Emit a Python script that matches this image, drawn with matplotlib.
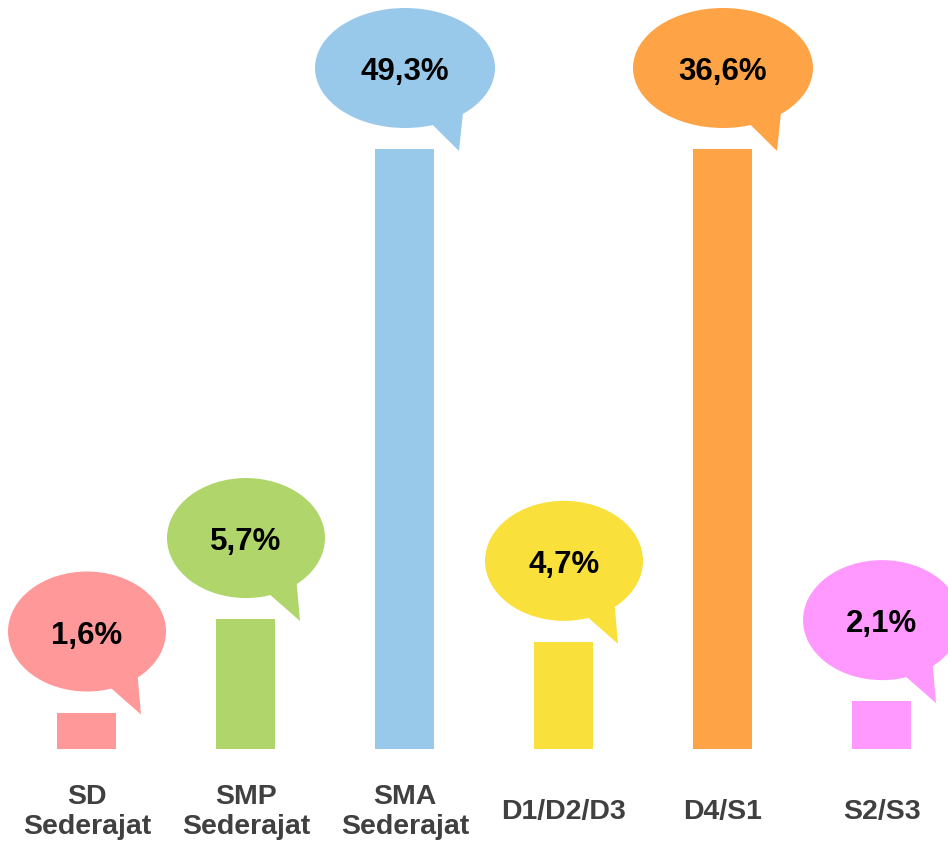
import numpy as np
import matplotlib
matplotlib.use("Agg")
import matplotlib.pyplot as plt
from matplotlib.patches import Ellipse, Polygon

categories = ["SD\nSederajat", "SMP\nSederajat", "SMA\nSederajat", "D1/D2/D3", "D4/S1", "S2/S3"]
values = [1.6, 5.7, 49.3, 4.7, 36.6, 2.1]
value_labels = ["1,6%", "5,7%", "49,3%", "4,7%", "36,6%", "2,1%"]
colors = ["#FF9999", "#B0D56B", "#99C9EA", "#F9E03A", "#FFA347", "#FF99FF"]

plt.rcParams['font.family'] = ['Liberation Sans', 'DejaVu Sans']

# pixel scales of the layout
px_x = 159.0    # pixels per category
px_y = 22.8     # pixels per percent
cap = 600 / px_y  # tall bars are cut off at this height

fig = plt.figure(figsize=(9.48, 8.45), dpi=100)
ax = fig.add_axes([0, 95 / 845, 1, 750 / 845])
ax.set_xlim(-87 / px_x, (948 - 87) / px_x)
ax.set_ylim(0, 750 / px_y)
ax.axis('off')

x = np.arange(len(values))
heights = np.minimum(values, cap)
ax.bar(x, heights, width=59 / px_x, color=colors, zorder=2)

for i in range(len(values)):
    top = heights[i]
    big = values[i] > cap
    w = (180 if big else 158) / px_x
    h = 120 / px_y
    cx = x[i]
    cy = top + 81 / px_y
    # tail of the speech bubble
    a, b = w / 2, h / 2
    p1 = (cx + a * np.cos(np.radians(-72)), cy + b * np.sin(np.radians(-72)))
    p2 = (cx + a * np.cos(np.radians(-50)), cy + b * np.sin(np.radians(-50)))
    tip = (cx + 54 / px_x, top - 2 / px_y)
    ax.add_patch(Polygon([(cx, cy), p1, tip, p2], closed=True, facecolor=colors[i],
                         edgecolor='none', clip_on=False, zorder=3))
    ax.add_patch(Ellipse((cx, cy), w, h, facecolor=colors[i], edgecolor='none',
                         clip_on=False, zorder=3))
    ax.text(cx, cy - 3 / px_y, value_labels[i], ha='center', va='center', fontsize=22.5,
            fontweight='bold', color='black', zorder=4)

for i in range(len(categories)):
    ax.text(x[i], -62 / px_y, categories[i], ha='center', va='center', fontsize=20.5,
            fontweight='bold', color='#404040', linespacing=1.2, clip_on=False)

fig.savefig("out.png", dpi=100, facecolor='white')
